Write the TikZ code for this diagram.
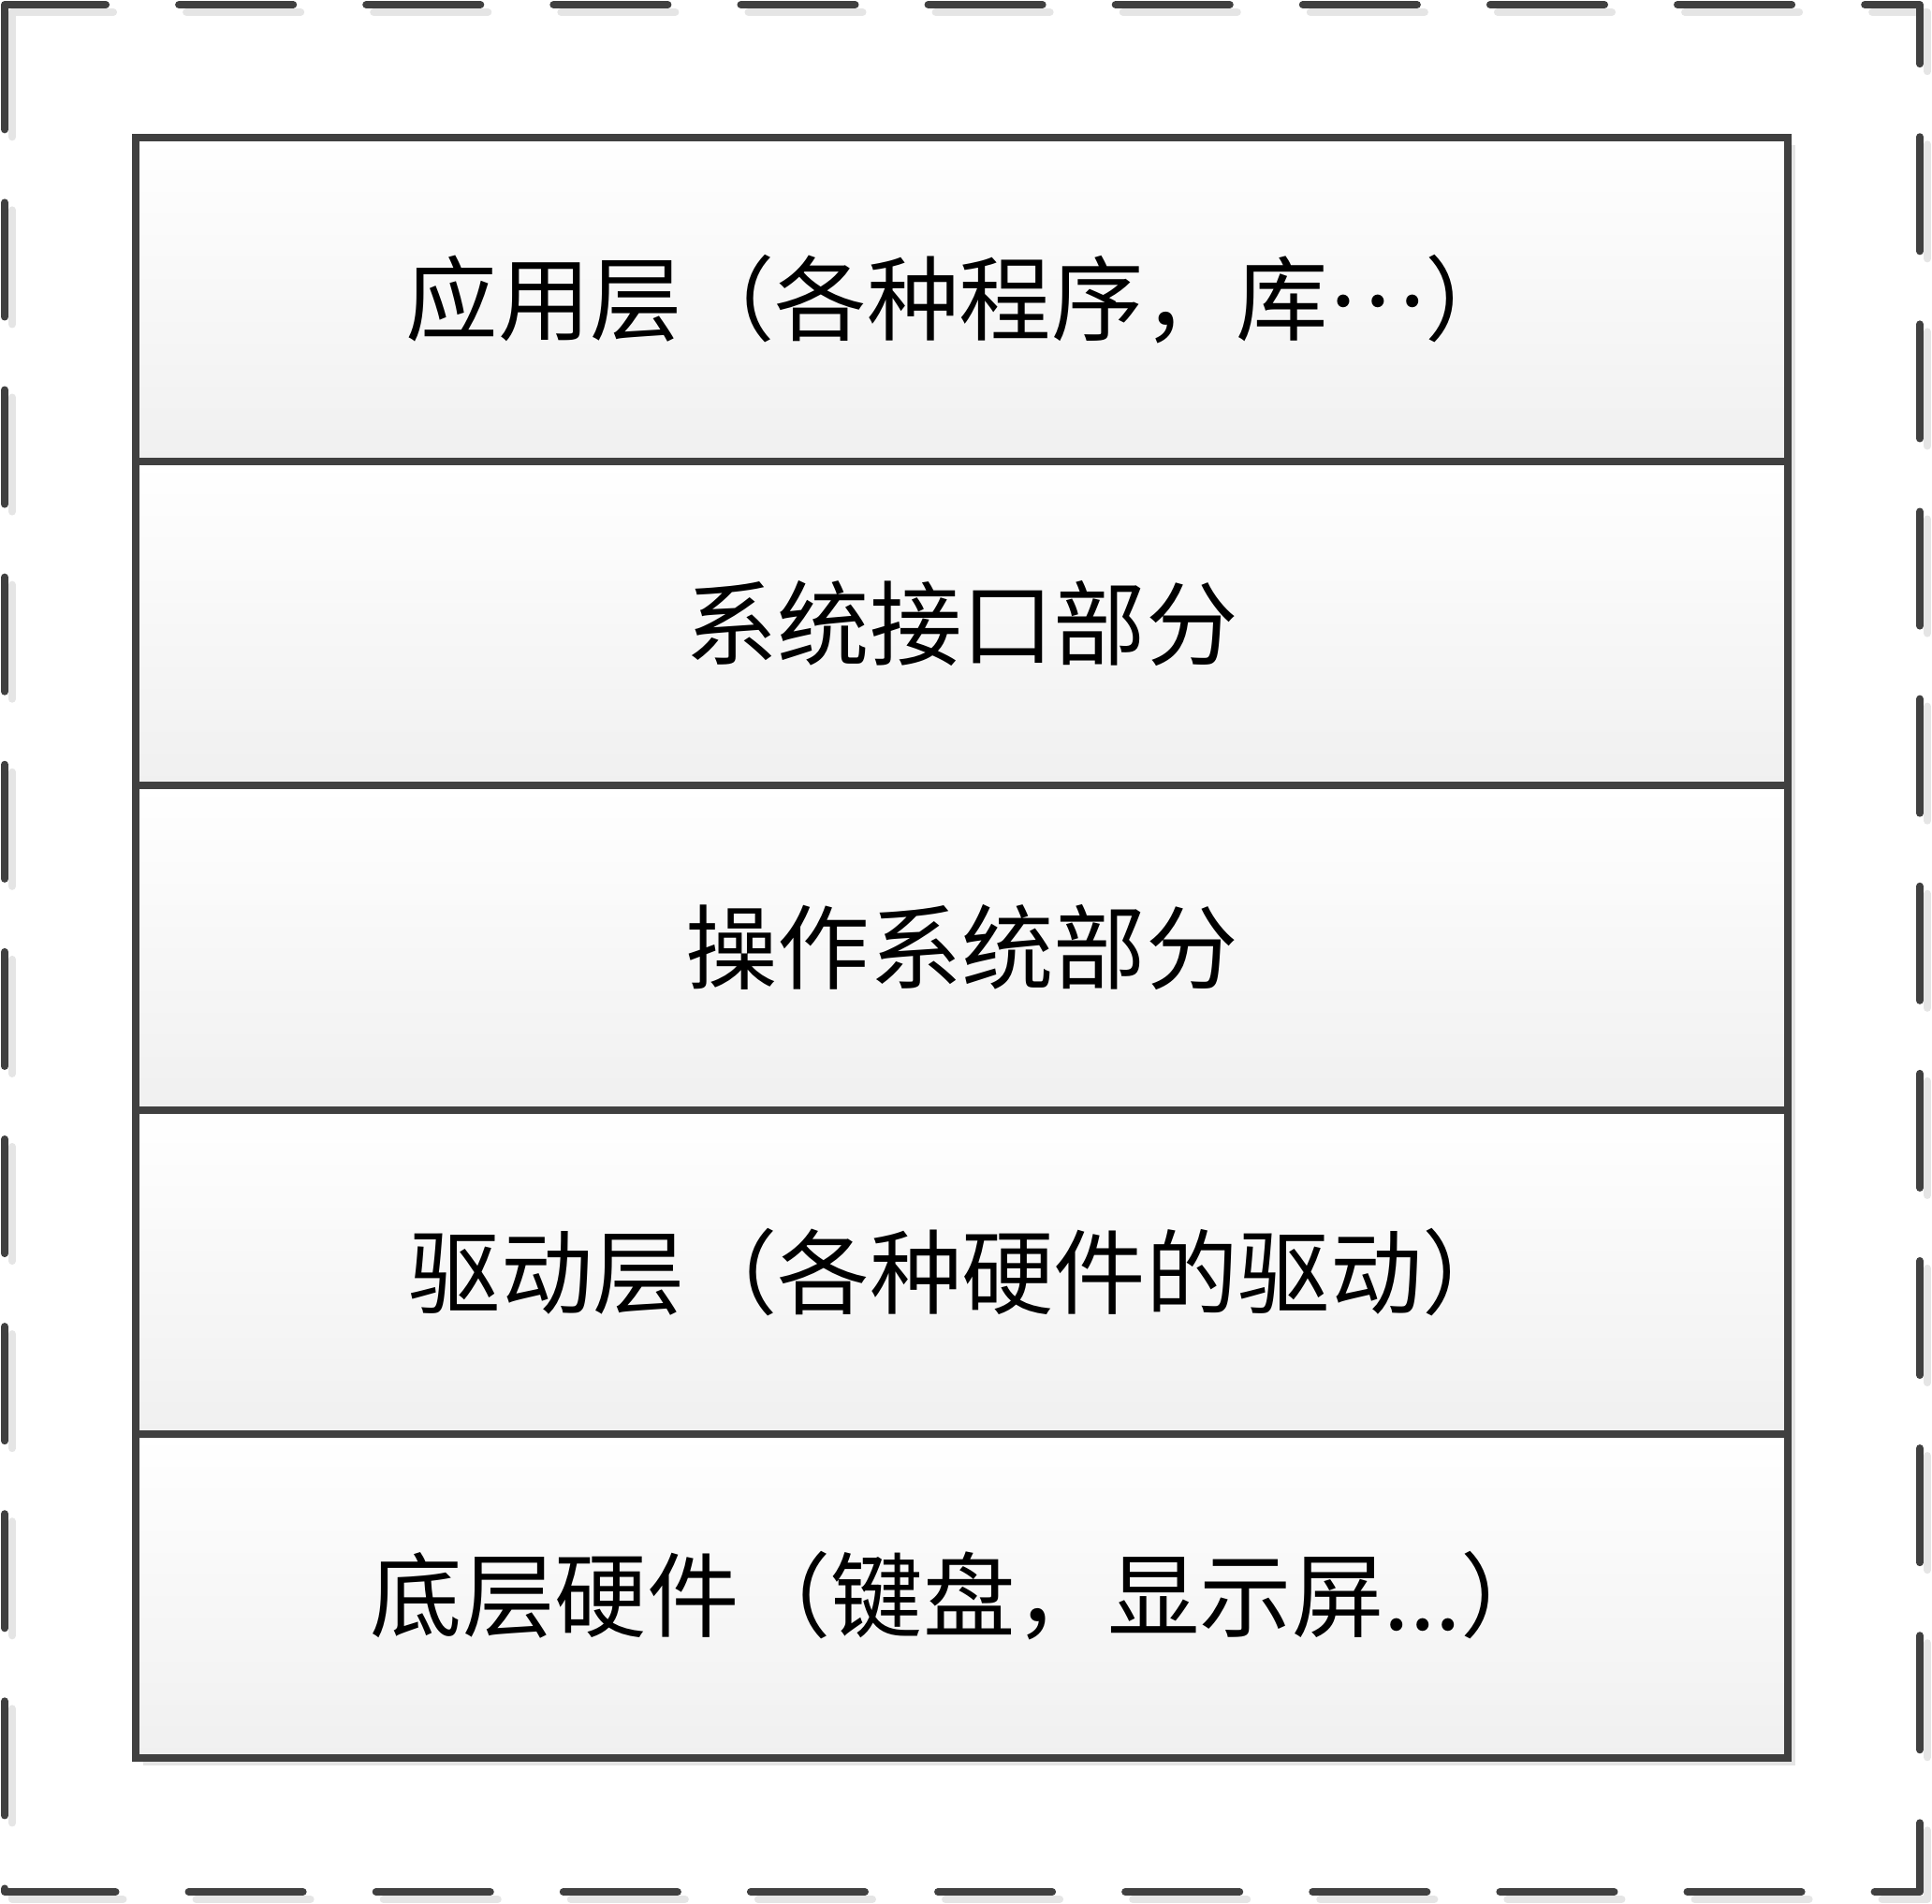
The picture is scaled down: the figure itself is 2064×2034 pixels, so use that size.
\documentclass[tikz,border=0pt]{standalone}
\usepackage{fontspec}
\usepackage{xcolor}
\usetikzlibrary{shadows}
\newfontfamily\cjk{Noto Sans CJK SC}
\definecolor{linegray}{RGB}{64, 64, 64}
\definecolor{shadowgray}{RGB}{229, 229, 229}
\definecolor{fillbottom}{RGB}{240, 240, 240}

\begin{document}
\begin{tikzpicture}[x=0.01cm, y=-0.01cm, font=\cjk\fontsize{28}{34}\selectfont]
    \tikzstyle{layer} = [rectangle, draw=linegray, line width=0.08cm,
                         minimum width=17.63cm, minimum height=3.462cm,
                         top color=white, bottom color=fillbottom, text=black,
                         drop shadow={shadow xshift=0.08cm, shadow yshift=-0.08cm,
                                      fill=shadowgray, opacity=1}]
    \tikzstyle{frame} = [line width=0.08cm, line cap=round, line join=round,
                         dash pattern=on 1.22cm off 0.78cm]

    \useasboundingbox (0,0) rectangle (2064,2034);

    %% Outer dashed frame (shadow first)
    \draw[frame, shadowgray, shift={(8,8)}]
      (5,19) -- (5,5) -- (2051,5) -- (2051,2021) -- (5,2021) -- cycle;
    \draw[frame, linegray]
      (5,19) -- (5,5) -- (2051,5) -- (2051,2021) -- (5,2021) -- cycle;

    %% Layers, top to bottom
    \node[layer] at (1027.5,320.1)  (app)  {应用层（各种程序，库\raisebox{0.3em}{…}）};
    \node[layer] at (1027.5,666.3)  (sys)  {系统接口部分};
    \node[layer] at (1027.5,1012.5) (os)   {操作系统部分};
    \node[layer] at (1027.5,1358.7) (drv)  {驱动层（各种硬件的驱动）};
    \node[layer] at (1027.5,1704.9) (hw)   {底层硬件（键盘，显示屏...）};
\end{tikzpicture}
\end{document}
